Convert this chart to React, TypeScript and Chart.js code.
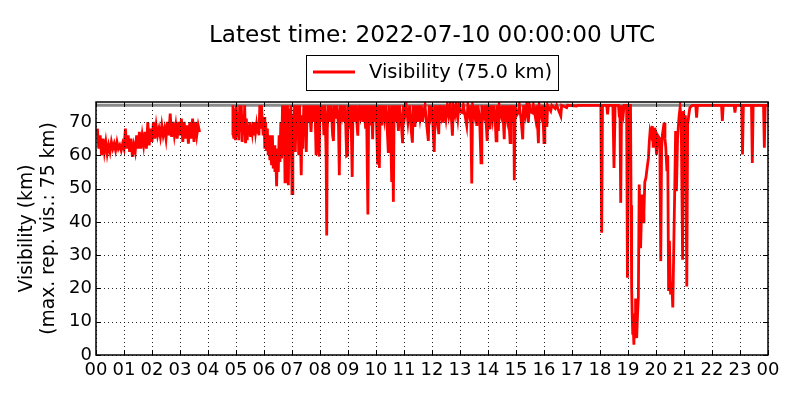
import React, { useEffect, useRef } from "react";
import { Chart, registerables } from "chart.js";

Chart.register(...registerables);

const TITLE = "Latest time: 2022-07-10 00:00:00 UTC";
const LEGEND_LABEL = "Visibility (75.0 km)";
const Y_TITLE_LINES = ["Visibility (km)", "(max. rep. vis.: 75 km)"];
const MAX_REPORTED_KM = 75;
const Y_MAX = 76;
const HOUR_TICKS = [0, 1, 2, 3, 4, 5, 6, 7, 8, 9, 10, 11, 12, 13, 14, 15, 16, 17, 18, 19, 20, 21, 22, 23, 24];
const HOUR_LABELS = ["00", "01", "02", "03", "04", "05", "06", "07", "08", "09", "10", "11", "12", "13", "14", "15", "16", "17", "18", "19", "20", "21", "22", "23", "00"];
const KM_TICKS = [0, 10, 20, 30, 40, 50, 60, 70];

// [hour of day, visibility km]
const nightVis: [number, number][] = [
  [0.05, 68], [0.1, 62], [0.15, 66], [0.2, 60], [0.25, 65], [0.3, 61], [0.35, 64], [0.4, 60.5], [0.45, 63], [0.5, 61],
  [0.55, 64], [0.6, 62], [0.65, 63.5], [0.7, 61.5], [0.75, 64], [0.8, 62], [0.85, 63], [0.9, 61.5], [0.95, 63.5], [1.0, 62],
  [1.05, 68], [1.1, 62], [1.15, 66], [1.2, 61], [1.25, 65], [1.3, 59.5], [1.35, 63], [1.4, 61], [1.45, 66], [1.5, 62],
  [1.55, 67], [1.6, 62], [1.65, 66], [1.7, 63], [1.75, 67], [1.8, 62], [1.85, 70], [1.9, 63], [1.95, 68], [2.0, 64],
  [2.05, 70], [2.1, 65], [2.15, 69], [2.2, 66], [2.25, 68], [2.3, 65.5], [2.35, 69], [2.4, 66], [2.45, 68], [2.5, 65],
  [2.55, 70], [2.6, 66], [2.65, 72.5], [2.7, 65.5], [2.75, 70], [2.8, 66], [2.85, 69], [2.9, 65], [2.95, 70], [3.0, 66],
  [3.05, 71], [3.1, 64], [3.15, 70], [3.2, 65], [3.25, 69], [3.3, 63.5], [3.35, 70], [3.4, 65], [3.45, 71], [3.5, 64],
  [3.55, 70], [3.6, 66], [3.65, 69], [3.7, 67],
];

const morningVis: [number, number][] = [
  [4.86, 66], [4.89, 75], [4.92, 65], [4.95, 74], [4.98, 64.5], [5.01, 75], [5.04, 66], [5.07, 73], [5.1, 64.5], [5.13, 75],
  [5.16, 67], [5.19, 75], [5.22, 64], [5.25, 72], [5.28, 66], [5.31, 75], [5.34, 63.6], [5.37, 71], [5.4, 64.5], [5.43, 69],
  [5.46, 66], [5.49, 70], [5.52, 65.5], [5.55, 69], [5.58, 67], [5.61, 70], [5.64, 66], [5.67, 70], [5.7, 67], [5.73, 69],
  [5.76, 66.5], [5.79, 70], [5.82, 66], [5.85, 75], [5.88, 68], [5.91, 75], [5.94, 70], [5.97, 66], [6.0, 71.5], [6.03, 62],
  [6.06, 70], [6.09, 61.3], [6.12, 68], [6.15, 60], [6.18, 66], [6.21, 58.5], [6.24, 64], [6.27, 57], [6.3, 66], [6.33, 56],
  [6.36, 63], [6.39, 55], [6.42, 60], [6.45, 50.7], [6.48, 62], [6.51, 55], [6.54, 66], [6.57, 58], [6.6, 70], [6.63, 59],
  [6.66, 75], [6.69, 60], [6.72, 75], [6.75, 52], [6.78, 75], [6.81, 62], [6.84, 75], [6.87, 51], [6.9, 74], [6.93, 60],
  [6.96, 75], [7.0, 48.5], [7.03, 72], [7.06, 62], [7.09, 75], [7.12, 61], [7.15, 75], [7.18, 66], [7.21, 75], [7.24, 60],
  [7.27, 75], [7.3, 65], [7.33, 54], [7.36, 72], [7.39, 62], [7.42, 75], [7.45, 68], [7.48, 75], [7.51, 61], [7.54, 75],
  [7.58, 70], [7.62, 75], [7.68, 67], [7.72, 75], [7.78, 70], [7.82, 75], [7.86, 60], [7.9, 75], [7.94, 68], [7.97, 59.6],
  [8.0, 75], [8.05, 70], [8.1, 75], [8.14, 66], [8.18, 75], [8.22, 59], [8.24, 35.9], [8.26, 68], [8.3, 75],
];

const middayVis: [number, number][] = [
  [8.36, 70], [8.4, 75], [8.45, 66], [8.48, 64.3], [8.51, 75], [8.56, 71], [8.6, 75], [8.66, 69], [8.69, 54], [8.72, 75],
  [8.78, 72], [8.82, 75], [8.86, 70], [8.9, 75], [8.95, 59.8], [8.98, 60], [9.01, 75], [9.06, 68], [9.1, 75], [9.15, 53.5],
  [9.18, 75], [9.23, 70], [9.27, 75], [9.35, 65.9], [9.38, 75], [9.44, 72], [9.48, 75], [9.53, 70], [9.57, 75], [9.63, 68],
  [9.66, 75], [9.71, 42.2], [9.74, 75], [9.8, 69], [9.84, 75], [9.88, 64.8], [9.91, 75], [9.96, 70], [10.0, 75], [10.06, 57.2],
  [10.09, 75], [10.12, 56.2], [10.15, 75], [10.2, 69], [10.25, 75], [10.3, 71], [10.35, 75], [10.4, 68], [10.44, 60.7], [10.47, 75],
  [10.52, 70], [10.56, 52], [10.58, 75], [10.62, 46], [10.65, 75], [10.7, 70], [10.75, 75], [10.8, 67.3], [10.84, 75], [10.9, 70],
  [10.95, 63.6], [10.98, 75], [11.03, 72], [11.08, 75], [11.14, 70], [11.2, 75], [11.26, 67.3], [11.3, 63.8], [11.33, 75], [11.39, 68.5],
  [11.43, 75], [11.48, 70], [11.52, 75], [11.57, 71.3], [11.62, 75], [11.66, 70], [11.7, 73], [11.75, 75], [11.8, 70], [11.87, 64.3],
  [11.9, 75], [11.95, 72], [12.0, 75], [12.05, 66], [12.08, 61], [12.11, 75], [12.17, 71], [12.21, 75], [12.24, 66.3], [12.27, 75],
  [12.33, 72], [12.37, 75], [12.4, 69.8], [12.44, 75], [12.5, 71], [12.55, 75], [12.6, 72], [12.65, 75], [12.7, 70], [12.73, 65.9],
  [12.76, 75], [12.82, 72.3], [12.86, 75], [12.92, 71], [12.96, 75], [13.02, 73], [13.08, 72.8], [13.12, 75], [13.2, 71], [13.24, 69],
  [13.28, 75], [13.34, 72], [13.38, 75], [13.42, 51.5], [13.45, 75], [13.52, 72], [13.56, 75], [13.6, 68.8], [13.64, 75], [13.7, 71],
  [13.75, 57.7], [13.78, 75], [13.85, 72], [13.9, 75], [13.97, 64.3], [14.0, 75], [14.07, 67.8], [14.1, 75], [14.16, 71], [14.2, 75],
  [14.26, 70], [14.29, 64.3], [14.32, 75], [14.37, 67.3], [14.4, 75], [14.47, 72], [14.52, 75], [14.58, 64.8], [14.61, 75], [14.68, 71],
  [14.72, 75], [14.79, 63.8], [14.82, 75], [14.88, 72], [14.92, 75], [14.94, 52.5], [14.97, 75], [15.02, 72], [15.08, 72.8], [15.12, 75],
  [15.18, 71], [15.24, 64.8], [15.27, 75], [15.33, 72], [15.38, 75], [15.44, 69.8], [15.48, 75], [15.54, 73], [15.58, 72.8], [15.62, 75],
  [15.7, 71], [15.74, 75], [15.8, 63.6], [15.83, 75], [15.9, 72], [15.95, 75], [16.0, 63.8], [16.03, 75], [16.1, 68.5], [16.13, 75],
  [16.24, 73.3], [16.28, 75], [16.4, 74], [16.45, 75], [16.6, 71.8], [16.63, 75], [16.81, 74.3], [16.84, 75], [17.17, 74.8], [17.2, 75],
];

const eveningVis: [number, number][] = [
  [18.03, 75], [18.06, 36.7], [18.09, 75], [18.24, 75], [18.27, 72.3], [18.3, 75], [18.46, 75], [18.5, 56.2], [18.54, 75], [18.66, 75],
  [18.69, 71.8], [18.71, 75], [18.74, 45.7], [18.77, 75], [18.83, 72.3], [18.86, 75], [18.95, 75], [18.98, 23.2], [19.01, 75], [19.05, 75],
  [19.09, 75], [19.11, 45], [19.13, 20.2], [19.15, 12], [19.17, 6.1], [19.19, 8], [19.21, 3.1], [19.23, 10], [19.25, 12.1], [19.27, 17],
  [19.29, 7], [19.31, 5.1], [19.34, 12], [19.37, 17.2], [19.4, 51.2], [19.45, 32.1], [19.48, 42], [19.51, 48.2], [19.54, 40], [19.57, 43.2],
  [19.6, 52], [19.64, 53.2], [19.68, 56], [19.73, 59.2], [19.76, 64], [19.79, 67.3], [19.83, 66], [19.87, 68.8], [19.9, 62.3], [19.93, 67],
  [19.96, 68.3], [20.0, 63], [20.02, 60.2], [20.06, 66], [20.11, 65.3], [20.14, 62], [20.17, 28.2], [20.2, 62], [20.23, 66.3], [20.26, 68],
  [20.29, 69.8], [20.32, 65], [20.35, 62.3], [20.39, 55.2], [20.42, 60], [20.45, 19.2], [20.48, 34.3], [20.52, 18.2], [20.56, 22], [20.6, 14.3],
  [20.64, 35], [20.67, 50.2], [20.7, 67.3], [20.73, 49.2], [20.77, 65], [20.82, 71.3], [20.86, 74.3], [20.9, 71], [20.95, 28.6], [20.98, 73.3],
  [21.02, 69.8], [21.05, 72], [21.1, 20.6], [21.13, 69.3], [21.17, 72], [21.21, 74.3], [21.3, 75], [21.42, 75], [21.45, 71.3], [21.48, 75],
  [22.34, 75], [22.37, 70.3], [22.4, 75], [22.79, 75], [22.82, 72.8], [22.85, 75], [23.06, 75], [23.09, 60.2], [23.12, 75], [23.41, 75],
  [23.44, 57.7], [23.47, 75], [23.84, 75], [23.87, 62.3], [23.9, 75], [24.0, 75],
];

const FONT = '"DejaVu Sans", "Liberation Sans", sans-serif';
const TICK_FONT_SIZE = 18;

const toPts = (arr: [number, number][]) => arr.map(([x, y]) => ({ x, y }));

const decorPlugin = {
  id: "decor",
  afterDatasetsDraw(chart: any) {
    const { ctx, chartArea: a, scales } = chart;
    const xs = scales.x;
    const ys = scales.y;
    ctx.save();
    // dotted grid
    ctx.strokeStyle = "rgba(0,0,0,0.85)";
    ctx.lineWidth = 1;
    ctx.setLineDash([1, 3]);
    for (const h of HOUR_TICKS) {
      const px = Math.round(xs.getPixelForValue(h)) + 0.5;
      ctx.beginPath();
      ctx.moveTo(px, a.top);
      ctx.lineTo(px, a.bottom);
      ctx.stroke();
    }
    for (const v of KM_TICKS) {
      const py = Math.round(ys.getPixelForValue(v)) + 0.5;
      ctx.beginPath();
      ctx.moveTo(a.left, py);
      ctx.lineTo(a.right, py);
      ctx.stroke();
    }
    ctx.setLineDash([]);
    // inward ticks
    ctx.strokeStyle = "#000";
    ctx.lineWidth = 1;
    const tl = 5;
    for (const h of HOUR_TICKS) {
      const px = Math.round(xs.getPixelForValue(h)) + 0.5;
      ctx.beginPath();
      ctx.moveTo(px, a.bottom);
      ctx.lineTo(px, a.bottom - tl);
      ctx.moveTo(px, a.top);
      ctx.lineTo(px, a.top + tl);
      ctx.stroke();
    }
    for (const v of KM_TICKS) {
      const py = Math.round(ys.getPixelForValue(v)) + 0.5;
      ctx.beginPath();
      ctx.moveTo(a.left, py);
      ctx.lineTo(a.left + tl, py);
      ctx.moveTo(a.right, py);
      ctx.lineTo(a.right - tl, py);
      ctx.stroke();
    }
    // frame
    ctx.lineWidth = 1.5;
    ctx.strokeRect(a.left, a.top, a.right - a.left, a.bottom - a.top);
    ctx.restore();
  },
  afterDraw(chart: any) {
    const { ctx, chartArea: a, scales } = chart;
    const xs = scales.x;
    const cx = (a.left + a.right) / 2;
    ctx.save();
    ctx.fillStyle = "#000";
    // x tick labels
    ctx.font = `${TICK_FONT_SIZE}px ${FONT}`;
    ctx.textAlign = "center";
    ctx.textBaseline = "alphabetic";
    HOUR_TICKS.forEach((h, i) => {
      ctx.fillText(HOUR_LABELS[i], xs.getPixelForValue(h), a.bottom + 19.5);
    });
    // title
    ctx.font = `23.2px ${FONT}`;
    ctx.fillText(TITLE, cx, 41.5);
    // legend
    const lx = 306.5, ly = 55.5, lw = 252, lh = 35;
    ctx.fillStyle = "#fff";
    ctx.fillRect(lx, ly, lw, lh);
    ctx.strokeStyle = "#000";
    ctx.lineWidth = 1;
    ctx.strokeRect(lx, ly, lw, lh);
    ctx.strokeStyle = "#ff0000";
    ctx.lineWidth = 2.8;
    ctx.beginPath();
    ctx.moveTo(313, 72);
    ctx.lineTo(355, 72);
    ctx.stroke();
    ctx.fillStyle = "#000";
    ctx.font = `19.5px ${FONT}`;
    ctx.textAlign = "left";
    ctx.fillText(LEGEND_LABEL, 369, 78);
    // y-axis title
    const cy = (a.top + a.bottom) / 2;
    ctx.font = `18.7px ${FONT}`;
    ctx.textAlign = "center";
    ctx.textBaseline = "middle";
    const xsPos = [27.5, 49.5];
    Y_TITLE_LINES.forEach((line, i) => {
      ctx.save();
      ctx.translate(xsPos[i], cy);
      ctx.rotate(-Math.PI / 2);
      ctx.fillText(line, 0, 0);
      ctx.restore();
    });
    ctx.restore();
  },
};

export default function App() {
  const ref = useRef<HTMLCanvasElement | null>(null);
  useEffect(() => {
    if (!ref.current) return;
    const visData = [
      ...toPts(nightVis),
      { x: 4.3, y: null },
      ...toPts(morningVis),
      ...toPts(middayVis),
      { x: 17.6, y: 75 },
      ...toPts(eveningVis),
    ];
    const maxLine = [
      { x: 0, y: MAX_REPORTED_KM },
      { x: 24, y: MAX_REPORTED_KM },
    ];
    const chart = new Chart(ref.current, {
      type: "line",
      data: {
        datasets: [
          {
            label: LEGEND_LABEL,
            data: visData as any,
            borderColor: "#ff0000",
            backgroundColor: "#ff0000",
            borderWidth: 2.8,
            pointRadius: 0,
            tension: 0,
            spanGaps: false,
            borderJoinStyle: "miter",
          },
          {
            label: "max",
            data: maxLine,
            borderColor: "#8a8a8a",
            borderWidth: 3,
            pointRadius: 0,
          },
        ],
      },
      options: {
        animation: false,
        responsive: false,
        devicePixelRatio: 1,
        layout: { padding: { top: 102, right: 32, left: 0, bottom: 0 } },
        plugins: {
          legend: { display: false },
          title: { display: false },
          tooltip: { enabled: false },
        },
        events: [],
        scales: {
          x: {
            type: "linear",
            min: 0,
            max: 24,
            afterFit: (s: any) => {
              s.height = 45;
            },
            grid: { display: false, drawTicks: false },
            border: { display: false },
            ticks: { display: false, stepSize: 1 },
          },
          y: {
            type: "linear",
            min: 0,
            max: Y_MAX,
            afterFit: (s: any) => {
              s.width = 96;
            },
            grid: { display: false, drawTicks: false },
            border: { display: false },
            ticks: {
              stepSize: 10,
              includeBounds: false,
              padding: 4,
              color: "#000",
              font: { family: FONT, size: TICK_FONT_SIZE },
            },
          },
        },
      },
      plugins: [decorPlugin],
    });
    return () => chart.destroy();
  }, []);
  return (
    <div style={{ position: "fixed", left: 0, top: 0, width: 800, height: 400, background: "#fff" }}>
      <canvas ref={ref} width={800} height={400} style={{ width: 800, height: 400, display: "block" }} />
    </div>
  );
}
